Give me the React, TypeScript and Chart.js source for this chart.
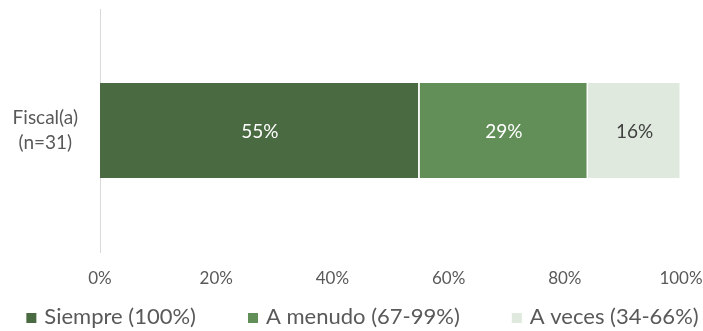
import React, { useEffect, useRef } from "react";
import { Chart, registerables } from "chart.js";

Chart.register(...registerables);

const categories: (string | string[])[] = [["Fiscal(a)", "(n=31)"]];
const seriesNames = ["Siempre (100%)", "A menudo (67-99%)", "A veces (34-66%)"];
const siempre = [55];
const aMenudo = [29];
const aVeces = [16];
const xTicks = [0, 20, 40, 60, 80, 100];

const colors = ["#4a6a41", "#628e57", "#dfe9dd"];
const labelColors = ["#ffffff", "#ffffff", "#404040"];
const FONT = "Lato, 'Open Sans', sans-serif";
const TEXT = "#595959";

const dataLabels = {
  id: "dataLabels",
  afterDatasetsDraw(chart: any) {
    const ctx = chart.ctx;
    ctx.save();
    ctx.font = `19px ${FONT}`;
    ctx.textAlign = "center";
    ctx.textBaseline = "middle";
    chart.data.datasets.forEach((ds: any, i: number) => {
      const meta = chart.getDatasetMeta(i);
      meta.data.forEach((el: any, j: number) => {
        const p = el.getProps(["x", "y", "base"], true);
        ctx.fillStyle = labelColors[i];
        ctx.fillText(`${ds.data[j]}%`, (p.x + p.base) / 2, p.y + 1);
      });
    });
    ctx.restore();
  },
};

const customLegend = {
  id: "customLegend",
  afterDraw(chart: any) {
    const ctx = chart.ctx;
    ctx.save();
    ctx.font = `22px ${FONT}`;
    ctx.textBaseline = "middle";
    const box = 10;
    const gapText = 8;
    const gapItem = 52;
    const widths = chart.data.datasets.map((d: any) => ctx.measureText(d.label).width);
    const total =
      widths.reduce((a: number, b: number) => a + b, 0) +
      widths.length * (box + gapText) +
      (widths.length - 1) * gapItem;
    let x = chart.width / 2 + 11 - total / 2;
    const y = chart.height - 14;
    chart.data.datasets.forEach((d: any, i: number) => {
      ctx.fillStyle = d.backgroundColor;
      ctx.fillRect(x, y - box / 2 + 1, box, box);
      x += box + gapText;
      ctx.fillStyle = TEXT;
      ctx.textAlign = "left";
      ctx.fillText(d.label, x, y);
      x += widths[i] + gapItem;
    });
    ctx.restore();
  },
};

export default function App() {
  const ref = useRef<HTMLCanvasElement>(null);
  useEffect(() => {
    if (!ref.current) return;
    const series = [siempre, aMenudo, aVeces];
    const chart = new Chart(ref.current, {
      type: "bar",
      data: {
        labels: categories as any,
        datasets: series.map((d, i) => ({
          label: seriesNames[i],
          data: d,
          backgroundColor: colors[i],
          borderColor: "#ffffff",
          borderWidth: { right: 1.5, left: 0, top: 0, bottom: 0 },
          borderSkipped: false,
          barPercentage: 0.39,
          categoryPercentage: 1,
        })),
      },
      options: {
        indexAxis: "y",
        responsive: false,
        animation: false,
        layout: { padding: { top: 9, right: 22, bottom: 39, left: 0 } },
        plugins: {
          legend: { display: false },
          tooltip: { enabled: false },
        },
        scales: {
          x: {
            stacked: true,
            min: 0,
            max: 100,
            afterBuildTicks(scale: any) {
              scale.ticks = xTicks.map((v) => ({ value: v }));
            },
            afterFit(scale: any) {
              scale.height = 40;
              scale.paddingLeft = 0;
              scale.paddingRight = 0;
            },
            grid: { display: false, drawTicks: false },
            border: { display: false },
            ticks: {
              padding: 16,
              color: TEXT,
              font: { family: FONT, size: 17 },
              callback: (v: any) => `${v}%`,
            },
          },
          y: {
            stacked: true,
            afterFit(scale: any) {
              scale.width = 100;
              scale.paddingTop = 0;
              scale.paddingBottom = 0;
            },
            grid: { display: false, drawTicks: false },
            border: { display: true, color: "#d9d9d9", width: 1 },
            ticks: {
              padding: 22,
              crossAlign: "center",
              color: TEXT,
              font: { family: FONT, size: 19, lineHeight: 1.3 },
            },
          },
        },
      },
      plugins: [dataLabels, customLegend],
    });
    return () => chart.destroy();
  }, []);
  return (
    <div style={{ position: "fixed", left: 0, top: 0, width: 703, height: 331, background: "#fff" }}>
      <canvas ref={ref} width={703} height={331} />
    </div>
  );
}
